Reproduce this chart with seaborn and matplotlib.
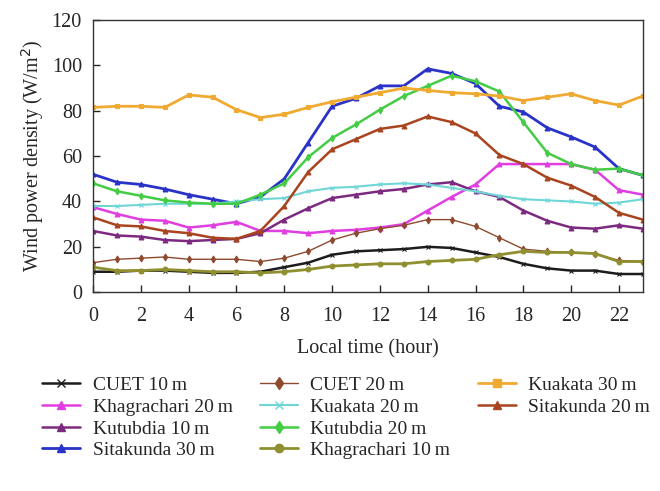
import matplotlib
matplotlib.use("Agg")
import matplotlib.pyplot as plt
from matplotlib.lines import Line2D
import seaborn as sns
import pandas as pd

# hourly wind power density (W/m^2)
hours = list(range(24))

cuet_10 = [9, 9, 9.5, 9.5, 9, 8.5, 8.5, 9, 11, 13, 16.5, 18, 18.5, 19, 20, 19.5,
           17.5, 15.5, 12.5, 10.5, 9.5, 9.5, 8, 8]
cuet_20 = [13, 14.5, 15, 15.5, 14.5, 14.5, 14.5, 13.5, 15, 18, 23, 26, 28, 29.5, 32, 32,
           29, 24, 19, 18, 17.5, 17, 14, 13.5]
kuakata_30 = [81.5, 82, 82, 81.5, 87, 86, 80.5, 77, 78.5, 81.5, 84, 86, 88, 90, 89, 88,
              87.5, 86.5, 84.5, 86, 87.5, 84.5, 82.5, 86.5]
khagrachari_20 = [37.5, 34.5, 32, 31.5, 28.5, 29.5, 31, 27, 27, 26, 27, 27.5, 28.5, 30, 36, 42,
                  47.5, 56.5, 56.5, 56.5, 56.5, 54, 45, 43]
kuakata_20 = [38, 38, 38.5, 39, 39, 39, 40, 41, 41.5, 44.5, 46, 46.5, 47.5, 48, 47.5, 46,
              44.5, 42.5, 41, 40.5, 40, 39, 39.5, 41]
sitakunda_20 = [33, 29.5, 29, 27, 26, 24, 23.5, 27, 38, 53, 63, 67.5, 72, 73.5, 77.5, 75,
                70, 60.5, 56.5, 50.5, 47, 42, 35, 32]
kutubdia_10 = [27, 25, 24.5, 23, 22.5, 23, 23.5, 26, 32, 37, 41.5, 43, 44.5, 45.5, 47.5, 48.5,
               44.5, 42, 36, 31.5, 28.5, 28, 29.5, 28]
kutubdia_20 = [48, 44.5, 42.5, 40.5, 39.5, 39, 39, 43, 48, 59.5, 68, 74, 80.5, 86.5, 91, 95.5,
               93, 88.5, 75, 61.5, 56.5, 54, 54.5, 51.5]
sitakunda_30 = [52, 48.5, 47.5, 45.5, 43, 41, 39, 42, 50, 66, 82, 85.5, 91, 91, 98.5, 96.5,
                92, 82, 79.5, 72.5, 68.5, 64, 54.5, 51.5]
khagrachari_10 = [11, 9.5, 9.5, 10, 9.5, 9, 9, 8.5, 9, 10, 11.5, 12, 12.5, 12.5, 13.5, 14,
                  14.5, 16.5, 18, 17.5, 17.5, 17, 13.5, 13.5]

# legend order (column by column)
series = [
    ("CUET 10\u2009m", cuet_10, "#1c1c1c", "x", 1.8),
    ("Khagrachari 20\u2009m", khagrachari_20, "#e03ee0", "^", 1.8),
    ("Kutubdia 10\u2009m", kutubdia_10, "#7c2a80", "^", 1.8),
    ("Sitakunda 30\u2009m", sitakunda_30, "#2a33c8", "^", 2.0),
    ("CUET 20\u2009m", cuet_20, "#8e4a2e", "d", 1.0),
    ("Kuakata 20\u2009m", kuakata_20, "#6fd6d8", "x", 1.5),
    ("Kutubdia 20\u2009m", kutubdia_20, "#44cc44", "d", 1.8),
    ("Khagrachari 10\u2009m", khagrachari_10, "#8f8f30", "o", 2.0),
    ("Kuakata 30\u2009m", kuakata_30, "#f0aa32", "s", 2.0),
    ("Sitakunda 20\u2009m", sitakunda_20, "#a8441e", "^", 1.8),
]

sns.set_style("ticks")
plt.rcParams["font.family"] = ["Liberation Serif", "DejaVu Serif"]

fig = plt.figure(figsize=(6.6, 4.91), dpi=100)
ax = fig.add_axes([0.141, 0.405, 0.833, 0.554])

handles = []
for name, vals, color, marker, lw in series:
    df = pd.DataFrame({"hour": hours, "power": vals})
    sns.lineplot(data=df, x="hour", y="power", ax=ax, color=color, lw=lw,
                 marker=marker, markersize=3.5, markeredgecolor=color,
                 markeredgewidth=0.8)
    handles.append(Line2D([], [], color=color, lw=lw, marker=marker,
                          markersize=6, markeredgecolor=color, label=name))

# two empty slots so the legend columns split 4 / 4 / 2
for _ in range(2):
    handles.append(Line2D([], [], linestyle="none", label=" "))

ax.set_xlim(0, 23)
ax.set_ylim(0, 120)
ax.set_xticks(range(0, 23, 2))
ax.set_yticks(range(0, 121, 20))
ax.tick_params(direction="in", length=5, width=1, labelsize=14.5)
ax.tick_params(axis="x", pad=11)
ax.tick_params(axis="y", pad=8)
for sp in ax.spines.values():
    sp.set_linewidth(1.0)
    sp.set_color("#333333")

ax.set_xlabel("Local time (hour)", fontsize=14.5, labelpad=9)
ax.set_ylabel("Wind power density (W/m$^2$)", fontsize=14.5, labelpad=4)

fig.legend(handles=handles, ncol=3, loc="upper left",
           bbox_to_anchor=(0.052, 0.249), borderaxespad=0, frameon=False,
           fontsize=14, handlelength=1.95, handletextpad=0.65,
           columnspacing=1.4, labelspacing=0.21)

plt.savefig("out.png", dpi=100)
plt.close()
